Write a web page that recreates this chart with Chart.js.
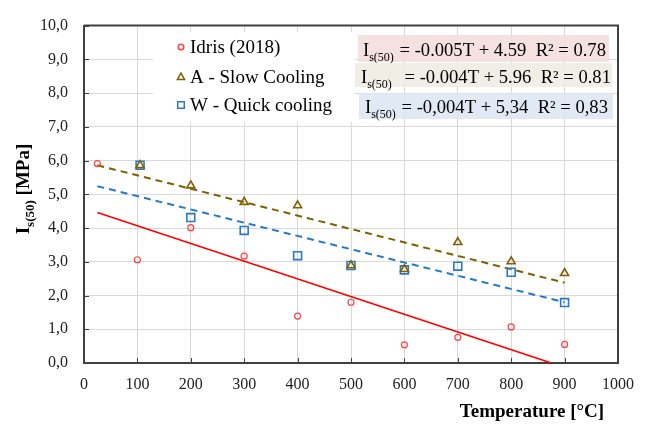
<!DOCTYPE html>
<html>
<head>
<meta charset="utf-8">
<script src="https://cdn.jsdelivr.net/npm/chart.js@4.4.1/dist/chart.umd.min.js"></script>
<style>
  body { margin: 0; background: #fff; }
  #myChart { display: block; }
</style>
</head>
<body>
<canvas id="myChart" width="646" height="425"></canvas>
<script>
// data
var idrisTemps = [25, 100, 200, 300, 400, 500, 600, 700, 800, 900];
var idrisValues = [5.91, 3.06, 4.01, 3.17, 1.39, 1.80, 0.54, 0.76, 1.07, 0.55];
var coolTemps = [105, 200, 300, 400, 500, 600, 700, 800, 900];
var slowValues = [5.86, 5.26, 4.77, 4.67, 2.89, 2.78, 3.58, 3.01, 2.66];
var quickValues = [5.86, 4.31, 3.93, 3.18, 2.89, 2.76, 2.87, 2.69, 1.79];
// trend line end points
var fitTemps = [25, 900];
var idrisFit = [4.46, -0.13];
var slowFit = [5.86, 2.38];
var quickFit = [5.24, 1.80];

var xTicks = [0, 100, 200, 300, 400, 500, 600, 700, 800, 900, 1000];
var yTicks = [0, 1, 2, 3, 4, 5, 6, 7, 8, 9, 10];

var legendLabels = ['Idris (2018)', 'A - Slow Cooling', 'W - Quick cooling'];
var equations = [
    ['= -0.005T + 4.59  R\u00b2 = 0.78', '#f2dcdb'],
    ['= -0.004T + 5.96  R\u00b2 = 0.81', '#eeece1'],
    ['= -0,004T + 5,34  R\u00b2 = 0,83', '#dce6f2']
];

var RED = '#ff4040', BROWN = '#7f6000', BLUE = '#2878c8';
var SERIF = '"Liberation Serif", "Times New Roman", serif';

function pts(xs, ys) {
    return xs.map(function (x, i) { return { x: x, y: ys[i] }; });
}

function marker(ctx, style, color, x, y) {
    ctx.save();
    ctx.strokeStyle = color;
    ctx.lineWidth = 1.5;
    ctx.beginPath();
    if (style === 'circle') {
        ctx.arc(x, y, 2.8, 0, Math.PI * 2);
    } else if (style === 'triangle') {
        ctx.moveTo(x, y - 4);
        ctx.lineTo(x + 3.6, y + 2.6);
        ctx.lineTo(x - 3.6, y + 2.6);
        ctx.closePath();
    } else {
        ctx.rect(x - 3.3, y - 3.3, 6.6, 6.6);
    }
    ctx.stroke();
    ctx.restore();
}

var decoPlugin = {
    id: 'deco',
    beforeDatasetsDraw: function (chart) {
        var ctx = chart.ctx;
        ctx.save();
        // legend box
        ctx.fillStyle = '#ffffff';
        ctx.fillRect(153, 32, 202, 90);
        var styles = ['circle', 'triangle', 'rect'];
        var colors = [RED, BROWN, BLUE];
        var rows = [47, 77, 105];
        ctx.font = '19px ' + SERIF;
        ctx.fillStyle = '#000';
        ctx.textBaseline = 'middle';
        for (var i = 0; i < 3; i++) {
            marker(ctx, styles[i], colors[i], 181, rows[i]);
            ctx.fillText(legendLabels[i], 190, rows[i] + 1);
        }
        // equation boxes
        var boxes = [[358, 35, 251, 27], [355, 63, 257, 24], [359, 93, 254, 26]];
        var base = [56, 83, 113];
        var startX = [363, 361, 365];
        var gaps = [1, 8, 1];
        ctx.textBaseline = 'alphabetic';
        for (var j = 0; j < 3; j++) {
            var b = boxes[j];
            ctx.globalAlpha = 0.85;
            ctx.fillStyle = equations[j][1];
            ctx.fillRect(b[0], b[1], b[2], b[3]);
            ctx.globalAlpha = 1;
            ctx.fillStyle = '#000';
            var x = startX[j];
            ctx.font = '18.6px ' + SERIF;
            ctx.fillText('I', x, base[j]);
            x += ctx.measureText('I').width;
            ctx.font = '12px ' + SERIF;
            ctx.fillText('s(50)', x, base[j] + 5);
            x += ctx.measureText('s(50)').width + gaps[j];
            ctx.font = '18.6px ' + SERIF;
            ctx.fillText(' ' + equations[j][0], x, base[j]);
        }
        ctx.restore();
    },
    afterDraw: function (chart) {
        var ctx = chart.ctx;
        var a = chart.chartArea;
        var xs = chart.scales.x, ys = chart.scales.y;
        ctx.save();
        // frame top/right
        ctx.strokeStyle = '#404040';
        ctx.lineWidth = 2;
        ctx.beginPath();
        ctx.moveTo(a.left, a.top);
        ctx.lineTo(a.right, a.top);
        ctx.lineTo(a.right, a.bottom);
        ctx.stroke();
        // inside tick marks
        ctx.lineWidth = 1;
        ctx.beginPath();
        xTicks.forEach(function (t) {
            var px = Math.round(xs.getPixelForValue(t)) + 0.5;
            ctx.moveTo(px, a.bottom);
            ctx.lineTo(px, a.bottom - 5);
        });
        yTicks.forEach(function (t) {
            var py = Math.round(ys.getPixelForValue(t)) + 0.5;
            ctx.moveTo(a.left, py);
            ctx.lineTo(a.left + 5, py);
        });
        ctx.stroke();
        // axis titles
        ctx.fillStyle = '#000';
        ctx.font = 'bold 19px ' + SERIF;
        ctx.textAlign = 'center';
        ctx.textBaseline = 'alphabetic';
        ctx.fillText('Temperature [\u00b0C]', 532, 417);
        // y title with subscript, rotated
        ctx.translate(29, 189);
        ctx.rotate(-Math.PI / 2);
        ctx.textAlign = 'left';
        ctx.font = 'bold 19px ' + SERIF;
        var w1 = ctx.measureText('I').width;
        var w3 = ctx.measureText(' [MPa]').width;
        ctx.font = 'bold 13px ' + SERIF;
        var w2 = ctx.measureText('s(50)').width;
        var x0 = -(w1 + w2 + w3) / 2;
        ctx.font = 'bold 19px ' + SERIF;
        ctx.fillText('I', x0, 0);
        ctx.font = 'bold 13px ' + SERIF;
        ctx.fillText('s(50)', x0 + w1, 5);
        ctx.font = 'bold 19px ' + SERIF;
        ctx.fillText(' [MPa]', x0 + w1 + w2, 0);
        ctx.restore();
    }
};

var ctx = document.getElementById('myChart').getContext('2d');
var myChart = new Chart(ctx, {
    type: 'scatter',
    data: {
        datasets: [{
            label: 'Idris (2018)',
            data: pts(idrisTemps, idrisValues),
            pointStyle: 'circle',
            pointRadius: 3,
            borderColor: RED,
            backgroundColor: 'rgba(255,255,255,0)',
            borderWidth: 1.2,
            order: 3
        }, {
            label: 'A - Slow Cooling',
            data: pts(coolTemps, slowValues),
            pointStyle: 'triangle',
            pointRadius: 4.6,
            borderColor: BROWN,
            backgroundColor: 'rgba(255,255,255,0)',
            borderWidth: 1.6,
            order: 1
        }, {
            label: 'W - Quick cooling',
            data: pts(coolTemps, quickValues),
            pointStyle: 'rect',
            pointRadius: 5.6,
            borderColor: BLUE,
            backgroundColor: 'rgba(255,255,255,0)',
            borderWidth: 1.6,
            order: 2
        }, {
            label: 'fit Idris',
            data: pts(fitTemps, idrisFit),
            showLine: true,
            pointRadius: 0,
            borderColor: '#ff0000',
            borderWidth: 1.6,
            order: 6
        }, {
            label: 'fit A',
            data: pts(fitTemps, slowFit),
            showLine: true,
            pointRadius: 0,
            borderColor: BROWN,
            borderWidth: 2,
            borderDash: [7, 5],
            order: 5
        }, {
            label: 'fit W',
            data: pts(fitTemps, quickFit),
            showLine: true,
            pointRadius: 0,
            borderColor: BLUE,
            borderWidth: 2,
            borderDash: [7, 5],
            order: 4
        }]
    },
    options: {
        responsive: false,
        animation: false,
        layout: { padding: { top: 19, right: 28, left: 0, bottom: 0 } },
        plugins: {
            legend: { display: false },
            tooltip: { enabled: false }
        },
        scales: {
            x: {
                type: 'linear',
                min: 0,
                max: 1000,
                afterFit: function (s) { s.height = 62; },
                afterBuildTicks: function (s) { s.ticks = xTicks.map(function (v) { return { value: v }; }); },
                ticks: {
                    padding: 12,
                    color: '#222',
                    font: { family: SERIF, size: 16 },
                    maxRotation: 0,
                    callback: function (v) { return String(v); }
                },
                grid: { color: '#d9d9d9', lineWidth: 1, drawTicks: false },
                border: { color: '#404040', width: 2 }
            },
            y: {
                min: 0,
                max: 10,
                afterFit: function (s) { s.width = 84; },
                afterBuildTicks: function (s) { s.ticks = yTicks.map(function (v) { return { value: v }; }); },
                ticks: {
                    padding: 16,
                    color: '#222',
                    font: { family: SERIF, size: 16 },
                    callback: function (v) { return v.toFixed(1).replace('.', ','); }
                },
                grid: { color: '#d9d9d9', lineWidth: 1, drawTicks: false },
                border: { color: '#404040', width: 2 }
            }
        }
    },
    plugins: [decoPlugin]
});
</script>
</body>
</html>
